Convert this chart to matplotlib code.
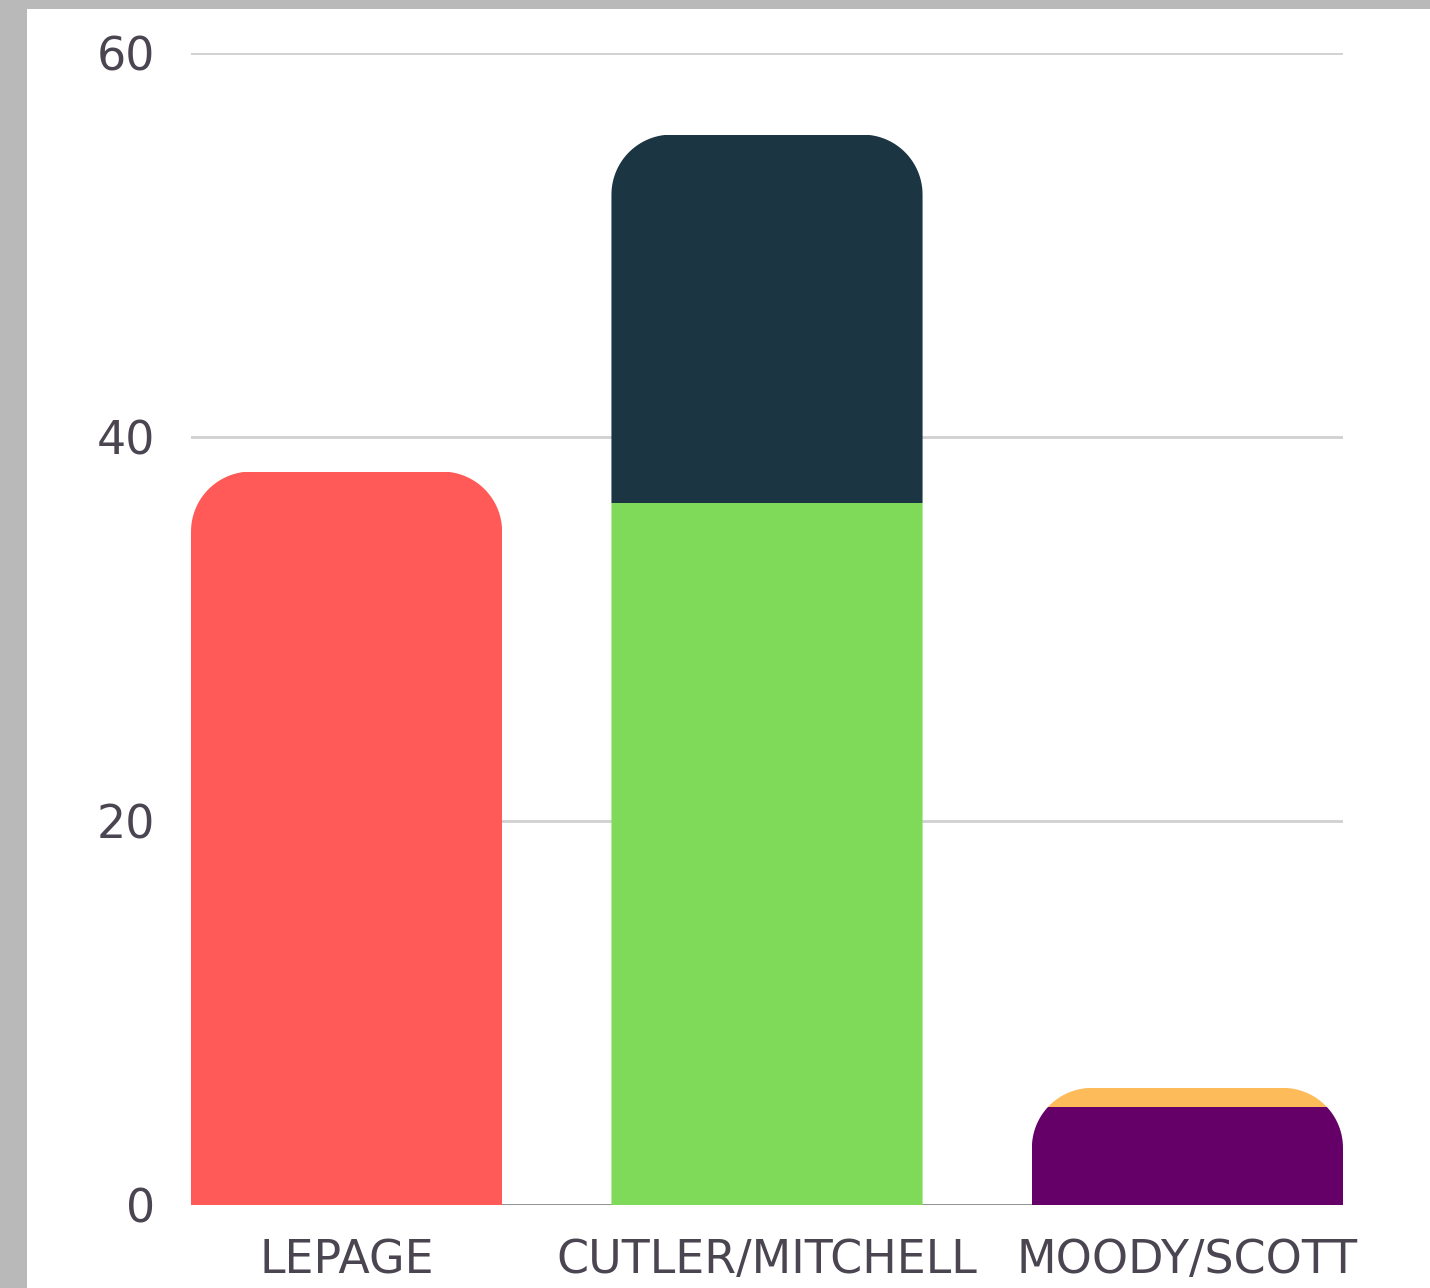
import numpy as np
import matplotlib.pyplot as plt
from matplotlib.path import Path
from matplotlib.patches import PathPatch, Rectangle

# donnees
candidats = ["LEPAGE", "CUTLER/MITCHELL", "MOODY/SCOTT"]
bas = [38.2, 36.55, 5.1]        # segment du bas
haut = [0.0, 19.2, 1.0]         # segment du haut
couleurs_bas = ["#FF5A57", "#80DA5A", "#640068"]
couleurs_haut = ["#FF5A57", "#1B3542", "#FDBB5A"]
yticks = [0, 20, 40, 60]

W, H = 1430, 1288
fig = plt.figure(figsize=(W / 100, H / 100), dpi=100, facecolor="#B9B9B9")
fig.patches.append(Rectangle((27 / W, 0), 1 - 27 / W, 1 - 9 / H, transform=fig.transFigure,
                             facecolor="white", edgecolor="none", zorder=-10))

ax = fig.add_axes([191 / W, (H - 1205) / H, 1152 / W, 1152 / H])
ax.set_facecolor("none")
ax.set_zorder(5)
ax.set_xlim(-0.37, 2.37)
ax.set_ylim(0, 60)

largeur = 0.74
px_x = 1152 / 2.74
px_y = 1152 / 60
rx = 60 / px_x
ry = 60 / px_y


def forme_arrondie(x0, x1, top):
    # rectangle avec coins du haut arrondis (en coordonnees donnees)
    t = np.linspace(0, np.pi / 2, 30)
    pts = [(x0, 0), (x1, 0)]
    pts += [(x1 - rx + rx * np.cos(a), top - ry + ry * np.sin(a)) for a in t]
    pts += [(x0 + rx - rx * np.cos(a), top - ry + ry * np.sin(a)) for a in t[::-1]]
    pts.append((x0, 0))
    codes = [Path.MOVETO] + [Path.LINETO] * (len(pts) - 2) + [Path.CLOSEPOLY]
    return Path(pts, codes)


for y in yticks[1:]:
    ax.axhline(y, color="#D0D0D0", lw=2, zorder=1)
ax.axhline(0, color="#888888", lw=2, zorder=1)

for i in range(len(candidats)):
    total = bas[i] + haut[i]
    clip = PathPatch(forme_arrondie(i - largeur / 2, i + largeur / 2, total),
                     transform=ax.transData, facecolor="none", edgecolor="none")
    b1 = ax.bar(i, bas[i], width=largeur, color=couleurs_bas[i], zorder=2)
    b2 = ax.bar(i, haut[i], bottom=bas[i], width=largeur, color=couleurs_haut[i], zorder=2)
    for r in list(b1) + list(b2):
        r.set_clip_path(clip)

for s in ax.spines.values():
    s.set_visible(False)
ax.set_yticks(yticks)
ax.set_xticks(range(len(candidats)))
ax.set_xticklabels(candidats)
ax.tick_params(length=0, labelsize=33, labelcolor="#4A4550")
ax.tick_params(axis="y", pad=26)
ax.tick_params(axis="x", pad=24)

plt.savefig("out.png", dpi=100, facecolor=fig.get_facecolor())
